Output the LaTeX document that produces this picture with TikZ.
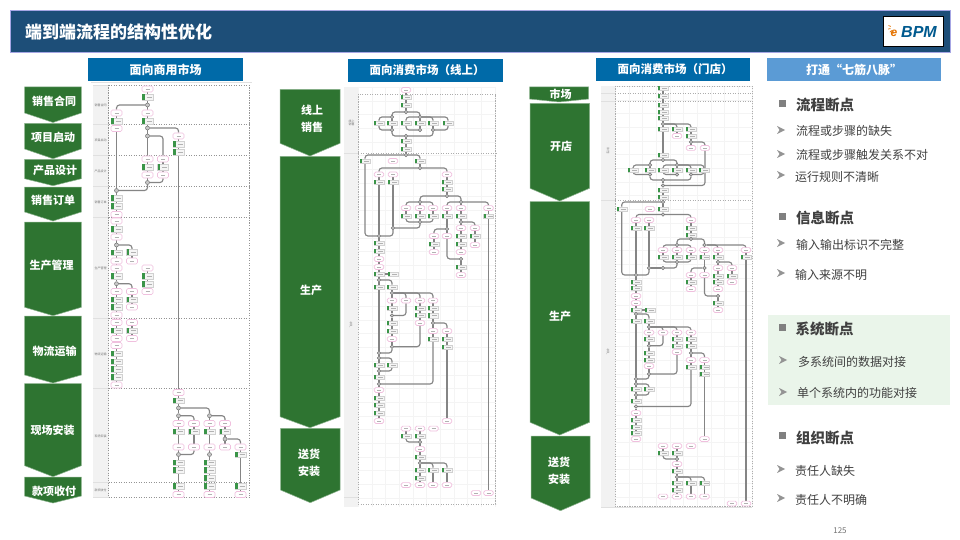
\documentclass[tikz,border=0pt]{standalone}
\usepackage{fontspec}
\setmainfont{Noto Sans CJK SC}
\newfontfamily\logofont{Liberation Sans}
\pgfdeclarelayer{bg}
\pgfdeclarelayer{conn}
\pgfsetlayers{bg,conn,main}
\definecolor{titlebar}{HTML}{1D4E78}
\definecolor{hdr}{HTML}{006AA8}
\definecolor{hdrlight}{HTML}{5B9BD5}
\definecolor{chevgreen}{HTML}{2E7431}
\definecolor{evpink}{HTML}{F0C0DE}
\definecolor{tabgreen}{HTML}{3A9448}
\definecolor{flowgray}{HTML}{858585}
\definecolor{txt}{HTML}{404040}
\definecolor{lanegray}{HTML}{F2F2F2}
\definecolor{greenbox}{HTML}{EAF5EA}
\newcommand\fs[1]{\fontsize{#1}{#1}\selectfont}
\def\ew{11}\def\eh{6}\def\fw{11}\def\fh{5.5}\def\tw{2.5}\def\gr{4}
\tikzset{
  chevshape/.style={fill=chevgreen,draw=chevgreen!55!white,line width=.5pt},
  chevtext/.style={text=white,font=\bfseries\fs{11}},
  headbar/.style={fill=hdr,minimum height=23pt,inner sep=0pt,text=white,font=\bfseries\fs{12}},
  evn/.style={draw=evpink,fill=white,line width=.7pt,rounded corners=1.5pt,minimum width=\ew pt,minimum height=\eh pt,inner sep=0pt},
  fnn/.style={draw=black!18,fill=black!4,line width=.4pt,minimum width=\fw pt,minimum height=\fh pt,inner sep=0pt},
  gwn/.style={circle,draw=black!55,fill=black!22,line width=.5pt,minimum size=\gr pt,inner sep=0pt},
  flow/.style={draw=flowgray,line width=1.15pt,rounded corners=3pt},
  lanesep/.style={draw=black!42,line width=.55pt,dash pattern=on 1.2pt off 1.3pt},
  lanesepb/.style={draw=black!32,line width=.5pt,dash pattern=on 1.3pt off 1.2pt},
  lanelab/.style={text=black!55,font=\fs{3},align=center,inner sep=0pt},
  gridl/.style={draw=black!4.5,line width=.3pt},
  headtxt/.style={anchor=west,inner sep=0pt,text=txt,font=\bfseries\fs{14.5}},
  itemtxt/.style={anchor=west,inner sep=0pt,text=txt,font=\fs{12}},
  sqb/.style={fill=black!50},
  arb/.style={fill=black!42}
}
\newcommand\ev[3]{\node[evn] (#1) at (#2,#3) {}; \draw[black!30,line width=.35pt] ({#2-2},#3) -- ({#2+2},#3);}
\newcommand\fn[3]{\node[fnn] (#1) at (#2,#3) {}; \fill[tabgreen] ({#2-\fw/2},{#3-\fh/2}) rectangle ({#2-\fw/2+\tw},{#3+\fh/2}); \draw[black!30,line width=.35pt] ({#2-1},#3) -- ({#2+4},#3);}
\newcommand\gw[3]{\node[gwn] (#1) at (#2,#3) {};}
\newcommand\chev[6]{\draw[chevshape] (#2,#4) -- (#3,#4) -- (#3,#5) -- ({(#2+#3)/2},#6) -- (#2,#5) -- cycle; \coordinate (#1) at ({(#2+#3)/2},#6);}
\newcommand\sq[2]{\fill[sqb] ({#1-3.5},{#2-3.5}) rectangle ({#1+3.5},{#2+3.5});}
\newcommand\ar[2]{\fill[arb] ({#1-4},{#2-4}) -- ({#1+4},#2) -- ({#1-4},{#2+4}) -- ({#1-1.5},#2) -- cycle;}
\begin{document}
\begin{tikzpicture}[x=1pt,y=-1pt]
\useasboundingbox (0,0) rectangle (960,540);
\begin{pgfonlayer}{bg}
\fill[white] (0,0) rectangle (960,540);
\end{pgfonlayer}
% title
\node[draw=black!30!blue!35,fill=titlebar,minimum width=939.5pt,minimum height=42pt,inner sep=0pt,line width=.6pt] (titlebox) at (480.25,31) {};
\node[anchor=west,inner sep=0pt,text=white,font=\bfseries\fs{17}] (titletxt) at (25,32) {端到端流程的结构性优化};
\node[draw=black,fill=white,line width=.8pt,minimum width=60pt,minimum height=30pt,inner sep=0pt] (logobox) at (913,31.5) {};
\node[inner sep=0pt,text=orange!90!black,font=\logofont\bfseries\itshape\fs{12}] (logoe) at (894,33.5) {e};
\node[inner sep=0pt,text=hdr!85!black,font=\logofont\bfseries\itshape\fs{16}] (logobpm) at (919,31.5) {BPM};
\foreach \a in {100,135,170,205}{\draw[orange!90!black,line width=.7pt] (894,28) ++(\a:3.5) -- ++(\a:2.5);}
% column heads
\node[headbar,minimum width=155pt] (h1) at (165.5,69.5) {面向商用市场};
\node[headbar,minimum width=155pt] (h2) at (425.5,70.5) {};
\node[anchor=west,inner sep=0pt,text=white,font=\bfseries\fs{11.5}] (h2t) at (369.3,70) {面向消费市场（线上）};
\node[headbar,minimum width=154pt] (h3) at (673,69.5) {};
\node[anchor=west,inner sep=0pt,text=white,font=\bfseries\fs{11.5}] (h3t) at (617.3,69) {面向消费市场（门店）};
\node[headbar,fill=hdrlight,minimum width=174pt] (h4) at (854,69.5) {打通“七筋八脉”};
% chevrons panel 1
\chev{s1}{24.7}{81.3}{87}{113}{122.5}
\chev{s2}{24.7}{81.3}{123.5}{149}{158.7}
\chev{s3}{24.7}{81.3}{159.5}{178.7}{185.7}
\chev{s4}{24.7}{81.3}{187}{212}{221}
\chev{s5}{24.7}{81.3}{222}{307.3}{315.7}
\chev{s6}{24.7}{81.3}{316}{375}{383}
\chev{s7}{24.7}{81.3}{383.5}{465.7}{476.7}
\chev{s8}{24.7}{81.3}{477}{496}{503}
\node[chevtext] (t1) at (54,101) {销售合同};
\node[chevtext] (t2) at (53,137) {项目启动};
\node[chevtext] (t3) at (55,170) {产品设计};
\node[chevtext] (t4) at (53,200) {销售订单};
\node[chevtext] (t5) at (51.5,265) {生产管理};
\node[chevtext] (t6) at (54.5,351) {物流运输};
\node[chevtext] (t7) at (52.5,430) {现场安装};
\node[chevtext] (t8) at (54,491) {款项收付};
% chevrons panel 2
\chev{u1}{280}{340}{89.3}{143.3}{156}
\chev{u2}{280}{340}{156.5}{416.7}{427.7}
\chev{u3}{280.5}{340}{428.3}{490}{502.7}
\node[chevtext] (ut1) at (312,110.5) {线上};
\node[chevtext] (ut2) at (312,127) {销售};
\node[chevtext] (ut3) at (311,290) {生产};
\node[chevtext] (ut4) at (309,454) {送货};
\node[chevtext] (ut5) at (309,471) {安装};
% chevrons panel 3
\chev{v1}{529.5}{588.5}{87}{99}{102}
\chev{v2}{530}{589.5}{103.5}{188.3}{201}
\chev{v3}{530}{589.5}{201.5}{422.3}{435}
\chev{v4}{531}{590}{436}{498}{510.7}
\node[chevtext] (vt1) at (560.5,94) {市场};
\node[chevtext] (vt2) at (561,146) {开店};
\node[chevtext] (vt3) at (560,316) {生产};
\node[chevtext] (vt4) at (559,462) {送货};
\node[chevtext] (vt5) at (559,479) {安装};
% backgrounds of the flow panels
\begin{pgfonlayer}{bg}
\draw[black!12,line width=.5pt] (91,82.5) -- (252,82.5);
\fill[lanegray] (93,85) rectangle (108.5,497);
\foreach \yy in {85,124.5,155,186.5,217.5,318,388.5,482,497}{\draw[lanesep] (108.5,\yy) -- (249,\yy); \draw[black!12,line width=.4pt] (93,\yy) -- (108.5,\yy);}
\draw[lanesep] (108.5,85) -- (108.5,497);
\draw[lanesep] (249,85) -- (249,497);
\foreach \xx in {358,371.7,...,496}{\draw[gridl] (\xx,87) -- (\xx,507);}
\foreach \yy in {87,100.7,...,507}{\draw[gridl] (344,\yy) -- (496,\yy);}
\fill[lanegray] (344,87) rectangle (358,507);
\draw[black!12,line width=.4pt] (344,153) -- (358,153) (344,497) -- (358,497);
\draw[lanesepb] (358,94) rectangle (495.7,504);
\draw[lanesepb] (358,153) -- (495.7,153);
\foreach \xx in {615,628.7,...,752}{\draw[gridl] (\xx,86) -- (\xx,507);}
\foreach \yy in {86,99.7,...,507}{\draw[gridl] (601,\yy) -- (752,\yy);}
\fill[lanegray] (601,86) rectangle (615,507);
\draw[black!12,line width=.4pt] (601,93) -- (615,93) (601,101) -- (615,101) (601,200.5) -- (615,200.5) (601,507) -- (752,507);
\draw[lanesepb] (615,86) rectangle (752,506.7);
\foreach \yy in {93,101,200.5}{\draw[lanesepb] (615,\yy) -- (752,\yy);}
\end{pgfonlayer}
\node[lanelab] (l1) at (100.5,105) {销售合同};
\node[lanelab] (l2) at (100.5,140) {项目启动};
\node[lanelab] (l3) at (100.5,171) {产品设计};
\node[lanelab] (l4) at (100.5,202) {销售订单};
\node[lanelab] (l5) at (100.5,268) {生产管理};
\node[lanelab] (l6) at (100.5,354) {物流运输};
\node[lanelab] (l7) at (100.5,436) {现场安装};
\node[lanelab] (l8) at (100.5,490) {款项收付};
\node[lanelab] (l9) at (351.5,123) {线上\\销售};
\node[lanelab] (l10) at (351,325) {生\\产};
\node[lanelab] (l11) at (608,151) {开\\店};
\node[lanelab] (l12) at (608,352) {生\\产};
% ---------- panel 1 ----------
\ev{a1}{147.5}{89}\fn{a2}{147.5}{97}\gw{a3}{147.5}{105}\ev{a4}{147.5}{113}\fn{a5}{147.5}{121}
\ev{a6}{116.5}{113}\fn{a7}{116.5}{121}\ev{a8}{116.5}{128.5}\gw{a9}{147.5}{128}\gw{a10}{147.5}{136}
\ev{a11}{178.5}{136}\fn{a12}{178.5}{144}\fn{a13}{178.5}{152}
\ev{a14}{147.5}{159}\ev{a15}{163}{159}\fn{a16}{147.5}{167}\fn{a17}{163}{167}\ev{a18}{147.5}{175}\ev{a19}{163}{175}\gw{a20}{147.5}{182.5}
\gw{a21}{116.5}{190.5}\fn{a22}{116.5}{198}\fn{a23}{116.5}{206}\ev{a24}{116.5}{214.5}
\ev{a25}{116.5}{221}\fn{a26}{116.5}{229}\ev{a27}{116.5}{237}\gw{a28}{116.5}{245}\fn{a29}{132}{252}\ev{a30}{132}{261}\fn{a31}{116.5}{252.5}\ev{a32}{116.5}{261}
\ev{a33}{116.5}{268}\fn{a34}{116.5}{276}\gw{a35}{116.5}{283.7}\ev{a36}{116.5}{291.5}\ev{a37}{132}{291.5}\fn{a38}{116.5}{299.5}\fn{a39}{132}{299.5}\fn{a40}{116.5}{307}\ev{a41}{132}{307}\ev{a42}{116.5}{315}
\ev{a43}{147.5}{268}\fn{a44}{147.5}{276}\fn{a45}{147.5}{284}\ev{a46}{147.5}{291.5}
\ev{a47}{116.5}{322.5}\ev{a48}{132}{322.5}\fn{a49}{116.5}{330.5}\fn{a50}{132}{330.5}\ev{a51}{116.5}{338.5}\ev{a52}{132}{338.5}
\ev{a53}{116.5}{345.5}\fn{a54}{116.5}{353.5}\fn{a55}{116.5}{361.5}\fn{a56}{116.5}{369}\fn{a57}{116.5}{377}\ev{a58}{116.5}{385}
\ev{a59}{178.5}{392.5}\fn{a60}{178.5}{400.5}\gw{a61}{178.5}{408}\gw{a62}{178.5}{415.7}\gw{a63}{209.5}{415.7}
\ev{a64}{178.5}{423.5}\ev{a65}{194}{423.5}\ev{a66}{209.5}{423.5}\ev{a67}{225}{423.5}
\fn{a68}{178.5}{431.5}\fn{a69}{194}{431.5}\fn{a70}{209.5}{431.5}\fn{a71}{225}{431.5}\gw{a72}{225}{439}
\ev{a73}{178.5}{447}\ev{a74}{194}{447}\ev{a75}{209.5}{447}\ev{a76}{225}{447}\ev{a77}{240.5}{447}\fn{a78}{240.5}{454.5}\gw{a79}{178.5}{454.5}\gw{a80}{209.5}{454.5}
\fn{a81}{178.5}{462.5}\fn{a82}{178.5}{470}\fn{a83}{209.5}{462.5}\fn{a84}{209.5}{470}\fn{a85}{209.5}{478}
\fn{a86}{178.5}{486}\fn{a87}{209.5}{486}\fn{a88}{240.5}{486}\ev{a89}{178.5}{494.5}\ev{a90}{209.5}{494.5}\ev{a91}{240.5}{494.5}
\begin{pgfonlayer}{conn}
\draw[flow] (a1)--(a2)--(a3)--(a4)--(a5)--(a9)--(a10)--(a14)--(a16)--(a18)--(a20);
\draw[flow] (a3)-|(a6); \draw[flow] (a6)--(a7)--(a8)--(a21);
\draw[flow] (a9)-|(a11); \draw[flow] (a11)--(a12)--(a13)--(a59)--(a60)--(a61);
\draw[flow] (a10)-|(a15); \draw[flow] (a15)--(a17)--(a19); \draw[flow] (a19)|-(a20); \draw[flow] (a20)|-(a21);
\draw[flow] (a21)--(a22)--(a23)--(a24)--(a25)--(a26)--(a27)--(a28)--(a31)--(a32)--(a33)--(a34)--(a35)--(a36)--(a38)--(a40)--(a42)--(a47)--(a49)--(a51)--(a53)--(a54)--(a55)--(a56)--(a57)--(a58);
\draw[flow] (a28)-|(a29); \draw[flow] (a29)--(a30);
\draw[flow] (a35)-|(a37); \draw[flow] (a37)--(a39)--(a41);
\draw[flow] (a43)--(a44)--(a45)--(a46); \draw[flow] (a48)--(a50)--(a52);
\draw[flow] (a61)--(a62)--(a64)--(a68)--(a73)--(a79)--(a81)--(a82)--(a86)--(a89);
\draw[flow] (a61)-|(a63); \draw[flow] (a63)--(a66)--(a70)--(a75)--(a80)--(a83)--(a84)--(a85)--(a87)--(a90);
\draw[flow] (a62)-|(a65); \draw[flow] (a65)--(a69)--(a74); \draw[flow] (a74)|-(a79);
\draw[flow] (a63)-|(a67); \draw[flow] (a67)--(a71)--(a72)--(a76); \draw[flow] (a72)-|(a77); \draw[flow] (a77)--(a78)--(a88)--(a91);
\end{pgfonlayer}
% ---------- panel 2 ----------
\def\ew{9.5}\def\eh{4.8}\def\fw{10}\def\fh{4.5}\def\tw{2}\def\gr{3.6}
\ev{b1}{406}{90}\fn{b2}{406}{97}\fn{b3}{406}{105}\gw{b4}{406}{112}\gw{b5}{392}{117}\gw{b6}{420}{117}
\fn{b7}{379}{123}\fn{b8}{392}{123}\fn{b9}{406}{123}\fn{b10}{420}{123}\fn{b11}{433}{123}\fn{b12}{448}{123}
\gw{b13}{392}{130}\gw{b14}{420}{130}\gw{b15}{433}{130}\gw{b16}{406}{136}\fn{b17}{406}{141}\fn{b18}{406}{149}\gw{b19}{406}{155}
\fn{b20}{365}{161}\ev{b21}{393}{161}\fn{b22}{420}{161}\gw{b23}{420}{168}
\ev{b24}{379}{174.5}\ev{b25}{393}{174.5}\ev{b26}{447}{174.5}\fn{b27}{379}{182}\fn{b28}{393}{182}\fn{b29}{447}{182}\fn{b30}{447}{189}\gw{b31}{447}{196}
\gw{b32}{461}{202}\gw{b33}{420}{202}
\ev{b34}{406}{208}\ev{b35}{420}{208}\ev{b36}{433}{208}\ev{b37}{447}{208}\ev{b38}{461}{208}\ev{b39}{488.5}{208}
\fn{b40}{406}{216}\fn{b41}{420}{216}\fn{b42}{433}{216}\fn{b43}{447}{216}\fn{b44}{461}{216}\fn{b45}{488.5}{216}
\gw{b46}{420}{222}\gw{b47}{461}{222}\ev{b48}{461}{228}\ev{b49}{475}{228}\fn{b50}{461}{236}\fn{b51}{475}{236}\fn{b52}{461}{244}\ev{b53}{461}{252}\ev{b54}{475}{245}
\gw{b55}{447}{229}\ev{b56}{434}{236}\ev{b57}{447}{236}\fn{b58}{434}{244}\ev{b59}{434}{252}\gw{b60}{461}{259}\fn{b61}{461}{267}\ev{b62}{461}{275}
\gw{b63}{393}{228}\gw{b64}{379}{236}\fn{b65}{379}{243}\fn{b66}{379}{251}\ev{b67}{379}{259}\ev{b68}{379}{267}\fn{b69}{379}{274}\fn{b70}{393}{274}\gw{b71}{379}{280}\fn{b72}{379}{287}\fn{b73}{392}{287}\gw{b74}{392}{293}
\ev{b75}{392}{300.5}\ev{b76}{406}{300.5}\ev{b77}{420}{300.5}\ev{b78}{433}{300.5}
\fn{b79}{392}{308}\gw{b80}{392}{315.5}\fn{b81}{392}{323}\fn{b82}{392}{331}\ev{b83}{392}{339}\gw{b84}{392}{346.7}
\fn{b85}{420}{308}\fn{b86}{420}{315}\ev{b87}{420}{323}
\fn{b88}{433}{308}\fn{b89}{433}{315.5}\gw{b90}{433}{323}\ev{b91}{433}{331}\ev{b92}{447}{331}\fn{b93}{433}{339}\fn{b94}{447}{339}\fn{b95}{447}{347}\ev{b96}{447}{421}
\gw{b97}{379}{353}\gw{b98}{379}{358}\fn{b99}{379}{365}\fn{b100}{392}{365}\gw{b101}{379}{371}\fn{b102}{379}{377}\gw{b103}{379}{384}\ev{b104}{379}{390}\fn{b105}{379}{398}\fn{b106}{379}{405}\fn{b107}{379}{413}\ev{b108}{379}{421}
\ev{b109}{406}{428.5}\ev{b110}{420}{428.5}\ev{b111}{433.5}{428.5}\fn{b112}{406}{436}\fn{b113}{420}{436}\gw{b114}{420}{442}\ev{b115}{420}{449}\fn{b116}{420}{457}\gw{b117}{420}{463}
\fn{b118}{420}{470}\fn{b119}{433}{470}\fn{b120}{447}{470}\fn{b121}{420}{478}
\ev{b122}{406}{485}\ev{b123}{420}{485}\ev{b124}{433}{485}\ev{b125}{447}{485}\ev{b126}{476}{493}\ev{b127}{488.5}{493}
\begin{pgfonlayer}{conn}
\draw[flow] (b1)--(b2)--(b3)--(b4);
\draw[flow] (b4)-|(b5); \draw[flow] (b4)-|(b6);
\draw[flow] (b5)-|(b7); \draw[flow] (b5)--(b8)--(b13); \draw[flow] (b7)|-(b13);
\draw[flow] (b6)-|(b9); \draw[flow] (b6)--(b10)--(b14); \draw[flow] (b6)-|(b11); \draw[flow] (b6)-|(b12);
\draw[flow] (b9)|-(b14); \draw[flow] (b11)--(b15); \draw[flow] (b12)|-(b15);
\draw[flow] (b13)|-(b16); \draw[flow] (b15)|-(b16);
\draw[flow] (b16)--(b17)--(b18)--(b19);
\draw[flow] (b19)-|(b20); \draw[flow] (b19)-|(b22); \draw[flow] (b22)--(b23);
\draw[flow] (b23)-|(b24); \draw[flow] (b24)--(b27); \draw[flow] (b25)--(b28);
\draw[flow] (b23)-|(b26); \draw[flow] (b26)--(b29)--(b30)--(b31); \draw[flow] (b31)-|(b32); \draw[flow] (b31)-|(b33);
\draw[flow] (b33)-|(b34); \draw[flow] (b33)--(b35); \draw[flow] (b33)-|(b36);
\draw[flow] (b32)-|(b37); \draw[flow] (b32)--(b38); \draw[flow] (b32)-|(b39);
\draw[flow] (b34)--(b40); \draw[flow] (b35)--(b41); \draw[flow] (b36)--(b42); \draw[flow] (b37)--(b43); \draw[flow] (b38)--(b44); \draw[flow] (b39)--(b45);
\draw[flow] (b40)|-(b46); \draw[flow] (b41)--(b46); \draw[flow] (b42)|-(b46); \draw[flow] (b44)--(b47)--(b48)--(b50)--(b52)--(b53); \draw[flow] (b47)-|(b49); \draw[flow] (b49)--(b51)--(b54);
\draw[flow] (b43)--(b55); \draw[flow] (b55)-|(b56); \draw[flow] (b55)--(b57); \draw[flow] (b56)--(b58)--(b59); \draw[flow] (b57)|-(b60); \draw[flow] (b60)--(b61)--(b62);
\draw[flow] (b46)|-(b63); \draw[flow] (b28)--(b63); \draw[flow] (b27)--(b64); \draw[flow] (b63)|-(b64); \draw[flow] (b20)|-(b64);
\draw[flow] (b64)--(b65)--(b66)--(b67)--(b68)--(b69)--(b71)--(b72)--(b97); \draw[flow] (b69)--(b70);
\draw[flow] (b71)-|(b73); \draw[flow] (b73)--(b74)--(b75)--(b79)--(b80)--(b81)--(b82)--(b83)--(b84);
\draw[flow] (b74)-|(b76); \draw[flow] (b74)-|(b77); \draw[flow] (b74)-|(b78); \draw[flow] (b76)|-(b80);
\draw[flow] (b77)--(b85)--(b86)--(b87); \draw[flow] (b87)|-(b84);
\draw[flow] (b78)--(b88)--(b89)--(b90)--(b91)--(b93); \draw[flow] (b90)-|(b92); \draw[flow] (b92)--(b94)--(b95)--(b96); \draw[flow] (b93)|-(b103);
\draw[flow] (b84)|-(b97); \draw[flow] (b97)--(b98)--(b99)--(b101)--(b102)--(b103)--(b104)--(b105)--(b106)--(b107)--(b108);
\draw[flow] (b98)-|(b100); \draw[flow] (b100)|-(b101);
\draw[flow] (b109)--(b112); \draw[flow] (b112)|-(b114); \draw[flow] (b110)--(b113)--(b114)--(b115)--(b116)--(b117)--(b118)--(b121)--(b123);
\draw[flow] (b117)-|(b119); \draw[flow] (b119)--(b124); \draw[flow] (b117)-|(b120); \draw[flow] (b120)--(b125);
\draw[flow] (b45)--(b127);
\end{pgfonlayer}
% ---------- panel 3 ----------
\fn{c1}{663}{88}\fn{c2}{663}{96}\fn{c3}{663}{105}\fn{c4}{663}{112}\fn{c5}{663}{118}\gw{c6}{663}{124}
\fn{c7}{663}{129}\fn{c8}{677}{129}\fn{c9}{691}{129}\ev{c10}{677}{136}\fn{c11}{691}{136}\gw{c12}{691}{142}\ev{c13}{691}{148}\ev{c14}{705}{148}
\fn{c15}{663}{155}\gw{c16}{663}{160}\gw{c17}{650}{165}\gw{c18}{677}{165}
\fn{c19}{633}{170}\fn{c20}{650}{170}\fn{c21}{663}{170}\fn{c22}{677}{170}\fn{c23}{691}{170}\fn{c24}{704}{170}
\gw{c25}{650}{174.5}\gw{c26}{677}{174.5}\gw{c27}{691}{174.5}\gw{c28}{663}{180}\gw{c29}{663}{185.5}\fn{c30}{663}{190}\fn{c31}{663}{197}\gw{c32}{663}{202}
\fn{c33}{621.7}{209}\ev{c34}{650}{209}\fn{c35}{663}{209}\gw{c36}{663}{214.5}
\ev{c37}{636}{220}\ev{c38}{649}{220}\ev{c39}{691}{220}\fn{c40}{636}{228}\fn{c41}{649}{228}\fn{c42}{691}{228}\fn{c43}{691}{235}\gw{c44}{691}{239}\gw{c45}{677}{245}\gw{c46}{704.5}{245}
\ev{c47}{663}{250}\ev{c48}{677}{250}\ev{c49}{691}{250}\ev{c50}{704.5}{250}\ev{c51}{718}{250}\ev{c52}{746}{250}
\fn{c53}{663}{257}\fn{c54}{677}{257}\fn{c55}{691}{257}\fn{c56}{704.5}{257}\fn{c57}{718}{257}\fn{c58}{746}{257}
\gw{c59}{677}{262}\gw{c60}{718}{262}\ev{c61}{718}{268}\ev{c62}{732}{268}\fn{c63}{718}{276}\fn{c64}{732}{276}\fn{c65}{718}{282}\ev{c66}{718}{289}\ev{c67}{732}{282}
\gw{c68}{704.5}{268}\ev{c69}{691}{275}\ev{c70}{704.5}{275}\fn{c71}{691}{282}\ev{c72}{691}{289}\gw{c73}{718}{296}\fn{c74}{718}{303}\ev{c75}{718}{310}
\gw{c76}{663}{268}\gw{c77}{649}{268}\gw{c78}{636}{275}\fn{c79}{636}{282}\fn{c80}{636}{288}\ev{c81}{636}{296}\ev{c82}{636}{303}\fn{c83}{636}{310}\fn{c84}{650}{310}\gw{c85}{636}{314}\fn{c86}{636}{321}\fn{c87}{649}{321}\gw{c88}{649}{327}
\ev{c89}{649}{332.5}\ev{c90}{663}{332.5}\ev{c91}{677}{332.5}\ev{c92}{691}{332.5}\fn{c93}{649}{339}\gw{c94}{649}{345.7}\fn{c95}{649}{353}\fn{c96}{649}{360}\ev{c97}{649}{366}\gw{c98}{649}{374}
\fn{c99}{677}{339}\fn{c100}{677}{346}\ev{c101}{677}{352}\fn{c102}{691}{339}\fn{c103}{691}{346}\gw{c104}{691}{353}\ev{c105}{691}{360}\ev{c106}{704.5}{360}\fn{c107}{691}{367}\fn{c108}{704.5}{367}\fn{c109}{704.5}{374}\ev{c110}{704.5}{439}
\gw{c111}{636}{379}\gw{c112}{636}{384}\fn{c113}{636}{389}\fn{c114}{649}{389}\gw{c115}{636}{406.5}\gw{c116}{636}{395}\fn{c117}{636}{401}\ev{c118}{636}{413}\fn{c119}{636}{420}\fn{c120}{636}{427}\fn{c121}{636}{433}\ev{c122}{636}{439}
\ev{c123}{663}{446}\ev{c124}{677}{446}\ev{c125}{691}{446}\fn{c126}{663}{453}\fn{c127}{677}{453}\gw{c128}{677}{459}\ev{c129}{677}{464}\fn{c130}{677}{471}\gw{c131}{677}{477}
\fn{c132}{677}{483}\fn{c133}{691}{483}\fn{c134}{704.5}{483}\fn{c135}{677}{490}\ev{c136}{663}{496.5}\ev{c137}{677}{496.5}\ev{c138}{691}{496.5}\ev{c139}{704.5}{496.5}\ev{c140}{732}{503.5}\ev{c141}{746}{503.5}
\begin{pgfonlayer}{conn}
\draw[flow] (c1)--(c2)--(c3)--(c4)--(c5)--(c6)--(c7)--(c15)--(c16);
\draw[flow] (c6)-|(c8); \draw[flow] (c8)--(c10); \draw[flow] (c6)-|(c9); \draw[flow] (c9)--(c11)--(c12)--(c13); \draw[flow] (c12)-|(c14); \draw[flow] (c14)|-(c29);
\draw[flow] (c16)-|(c17); \draw[flow] (c16)-|(c18); \draw[flow] (c17)-|(c19); \draw[flow] (c17)--(c20)--(c25); \draw[flow] (c18)-|(c21); \draw[flow] (c18)--(c22)--(c26); \draw[flow] (c18)-|(c23); \draw[flow] (c18)-|(c24);
\draw[flow] (c19)|-(c25); \draw[flow] (c21)|-(c26); \draw[flow] (c23)--(c27); \draw[flow] (c24)|-(c27); \draw[flow] (c25)|-(c28); \draw[flow] (c27)|-(c28);
\draw[flow] (c28)--(c29)--(c30)--(c31)--(c32);
\draw[flow] (c32)-|(c33); \draw[flow] (c32)--(c35)--(c36); \draw[flow] (c36)-|(c37); \draw[flow] (c36)-|(c39); \draw[flow] (c37)--(c40); \draw[flow] (c38)--(c41); \draw[flow] (c39)--(c42)--(c43)--(c44);
\draw[flow] (c44)-|(c45); \draw[flow] (c44)-|(c46); \draw[flow] (c45)-|(c47); \draw[flow] (c45)--(c48); \draw[flow] (c45)-|(c49); \draw[flow] (c46)--(c50); \draw[flow] (c46)-|(c51); \draw[flow] (c46)-|(c52);
\draw[flow] (c47)--(c53); \draw[flow] (c48)--(c54); \draw[flow] (c49)--(c55); \draw[flow] (c50)--(c56); \draw[flow] (c51)--(c57); \draw[flow] (c52)--(c58);
\draw[flow] (c53)|-(c59); \draw[flow] (c54)--(c59); \draw[flow] (c55)|-(c59);
\draw[flow] (c57)--(c60)--(c61)--(c63)--(c65)--(c66); \draw[flow] (c60)-|(c62); \draw[flow] (c62)--(c64)--(c67);
\draw[flow] (c56)--(c68)--(c70); \draw[flow] (c68)-|(c69); \draw[flow] (c69)--(c71)--(c72); \draw[flow] (c70)|-(c73); \draw[flow] (c73)--(c74)--(c75);
\draw[flow] (c59)|-(c76); \draw[flow] (c76)--(c77); \draw[flow] (c41)--(c77); \draw[flow] (c77)|-(c78); \draw[flow] (c33)|-(c78); \draw[flow] (c40)--(c78);
\draw[flow] (c78)--(c79)--(c80)--(c81)--(c82)--(c83)--(c85)--(c86)--(c111); \draw[flow] (c83)--(c84);
\draw[flow] (c85)-|(c87); \draw[flow] (c87)--(c88)--(c89)--(c93)--(c94)--(c95)--(c96)--(c97)--(c98);
\draw[flow] (c88)-|(c90); \draw[flow] (c88)-|(c91); \draw[flow] (c88)-|(c92); \draw[flow] (c90)|-(c94);
\draw[flow] (c91)--(c99)--(c100)--(c101); \draw[flow] (c101)|-(c98);
\draw[flow] (c92)--(c102)--(c103)--(c104)--(c105)--(c107); \draw[flow] (c104)-|(c106); \draw[flow] (c106)--(c108)--(c109)--(c110); \draw[flow] (c107)|-(c115);
\draw[flow] (c98)|-(c111); \draw[flow] (c111)--(c112)--(c113)--(c116)--(c117)--(c115)--(c118)--(c119)--(c120)--(c121)--(c122);
\draw[flow] (c112)-|(c114); \draw[flow] (c114)|-(c116);
\draw[flow] (c123)--(c126); \draw[flow] (c126)|-(c128); \draw[flow] (c124)--(c127)--(c128)--(c129)--(c130)--(c131)--(c132)--(c135)--(c137);
\draw[flow] (c131)-|(c133); \draw[flow] (c133)--(c138); \draw[flow] (c131)-|(c134); \draw[flow] (c134)--(c139);
\draw[flow] (c58)--(c141);
\end{pgfonlayer}
% ---------- right column ----------
\fill[greenbox] (768,315) rectangle (950,405);
\sq{782}{104}\node[headtxt] (r1) at (796,105) {流程断点};
\ar{781}{130}\node[itemtxt] (r2) at (796,131) {流程或步骤的缺失};
\ar{781}{154}\node[itemtxt] (r3) at (796,155) {流程或步骤触发关系不对};
\ar{781}{175}\node[itemtxt] (r4) at (795,177) {运行规则不清晰};
\sq{782}{216}\node[headtxt] (r5) at (796,218) {信息断点};
\ar{781}{243}\node[itemtxt] (r6) at (796,245) {输入输出标识不完整};
\ar{781}{273}\node[itemtxt] (r7) at (795,275) {输入来源不明};
\sq{782}{327}\node[headtxt] (r8) at (795.5,329) {系统断点};
\ar{783}{360}\node[itemtxt] (r9) at (798,362) {多系统间的数据对接};
\ar{783}{392}\node[itemtxt] (r10) at (797,393) {单个系统内的功能对接};
\sq{782}{435}\node[headtxt] (r11) at (796,438) {组织断点};
\ar{781}{469}\node[itemtxt] (r12) at (795,471) {责任人缺失};
\ar{781}{498}\node[itemtxt] (r13) at (795,500) {责任人不明确};
\node[inner sep=0pt,text=black!55,font=\fs{8}] (pg) at (840,531) {125};
\end{tikzpicture}
\end{document}
